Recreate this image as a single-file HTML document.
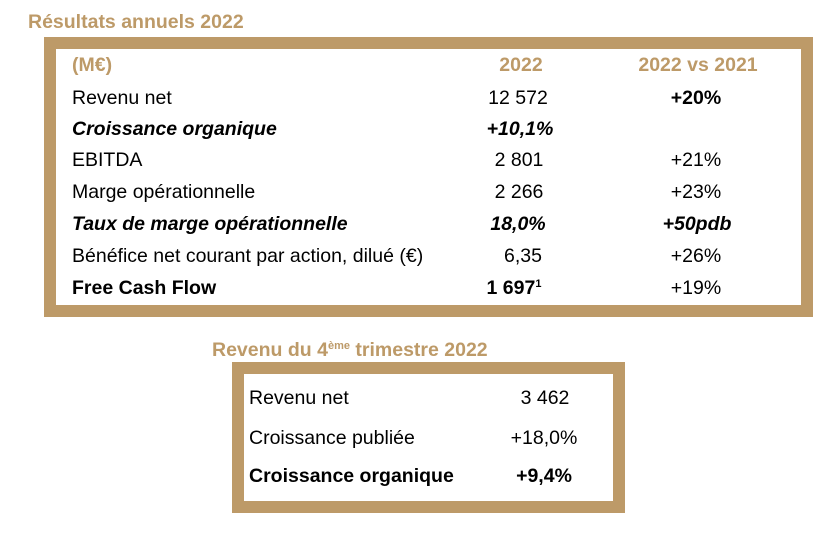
<!DOCTYPE html>
<html><head><meta charset="utf-8"><style>
body{margin:0;width:831px;height:537px;background:#fff;font-family:"Liberation Sans",sans-serif;position:relative;overflow:hidden;color:#000}
.t{position:absolute;white-space:nowrap;font-size:19.5px;line-height:20px}
.gold{color:#bd9a68;font-weight:bold}
.box{position:absolute;border:12px solid #bd9a68;box-sizing:border-box}
.c{transform:translateX(-50%)}
.b{font-weight:bold}.i{font-style:italic;font-weight:bold}
sup{font-size:11px;vertical-align:7px;line-height:0}
</style></head><body>
<div class="t gold" style="left:28px;top:12px;font-size:19.5px">Résultats annuels 2022</div>
<div class="box" style="left:44px;top:37px;width:769px;height:280px"></div>
<div class="t gold" style="left:72px;top:55px">(M€)</div>
<div class="t gold c" style="left:521px;top:55px">2022</div>
<div class="t gold c" style="left:698px;top:55px">2022 vs 2021</div>

<div class="t" style="left:72px;top:88px">Revenu net</div>
<div class="t c" style="left:518px;top:88px">12 572</div>
<div class="t c b" style="left:696px;top:88px">+20%</div>

<div class="t i" style="left:72px;top:119px">Croissance organique</div>
<div class="t c i" style="left:520px;top:119px">+10,1%</div>

<div class="t" style="left:72px;top:150px">EBITDA</div>
<div class="t c" style="left:519px;top:150px">2 801</div>
<div class="t c" style="left:696px;top:150px">+21%</div>

<div class="t" style="left:72px;top:182px">Marge opérationnelle</div>
<div class="t c" style="left:519px;top:182px">2 266</div>
<div class="t c" style="left:696px;top:182px">+23%</div>

<div class="t i" style="left:72px;top:214px">Taux de marge opérationnelle</div>
<div class="t c i" style="left:518px;top:214px">18,0%</div>
<div class="t c i" style="left:697px;top:214px">+50pdb</div>

<div class="t" style="left:72px;top:246px">Bénéfice net courant par action, dilué (€)</div>
<div class="t c" style="left:523px;top:246px">6,35</div>
<div class="t c" style="left:696px;top:246px">+26%</div>

<div class="t b" style="left:72px;top:278px">Free Cash Flow</div>
<div class="t c b" style="left:514px;top:278px">1 697<sup>1</sup></div>
<div class="t c" style="left:696px;top:278px">+19%</div>

<div class="t gold" style="left:212px;top:340px;font-size:19.5px">Revenu du 4<sup>ème</sup> trimestre 2022</div>
<div class="box" style="left:232px;top:362px;width:393px;height:151px"></div>
<div class="t" style="left:249px;top:388px">Revenu net</div>
<div class="t c" style="left:545px;top:388px">3 462</div>
<div class="t" style="left:249px;top:428px">Croissance publiée</div>
<div class="t c" style="left:544px;top:428px">+18,0%</div>
<div class="t b" style="left:249px;top:466px">Croissance organique</div>
<div class="t c b" style="left:544px;top:466px">+9,4%</div>
</body></html>
